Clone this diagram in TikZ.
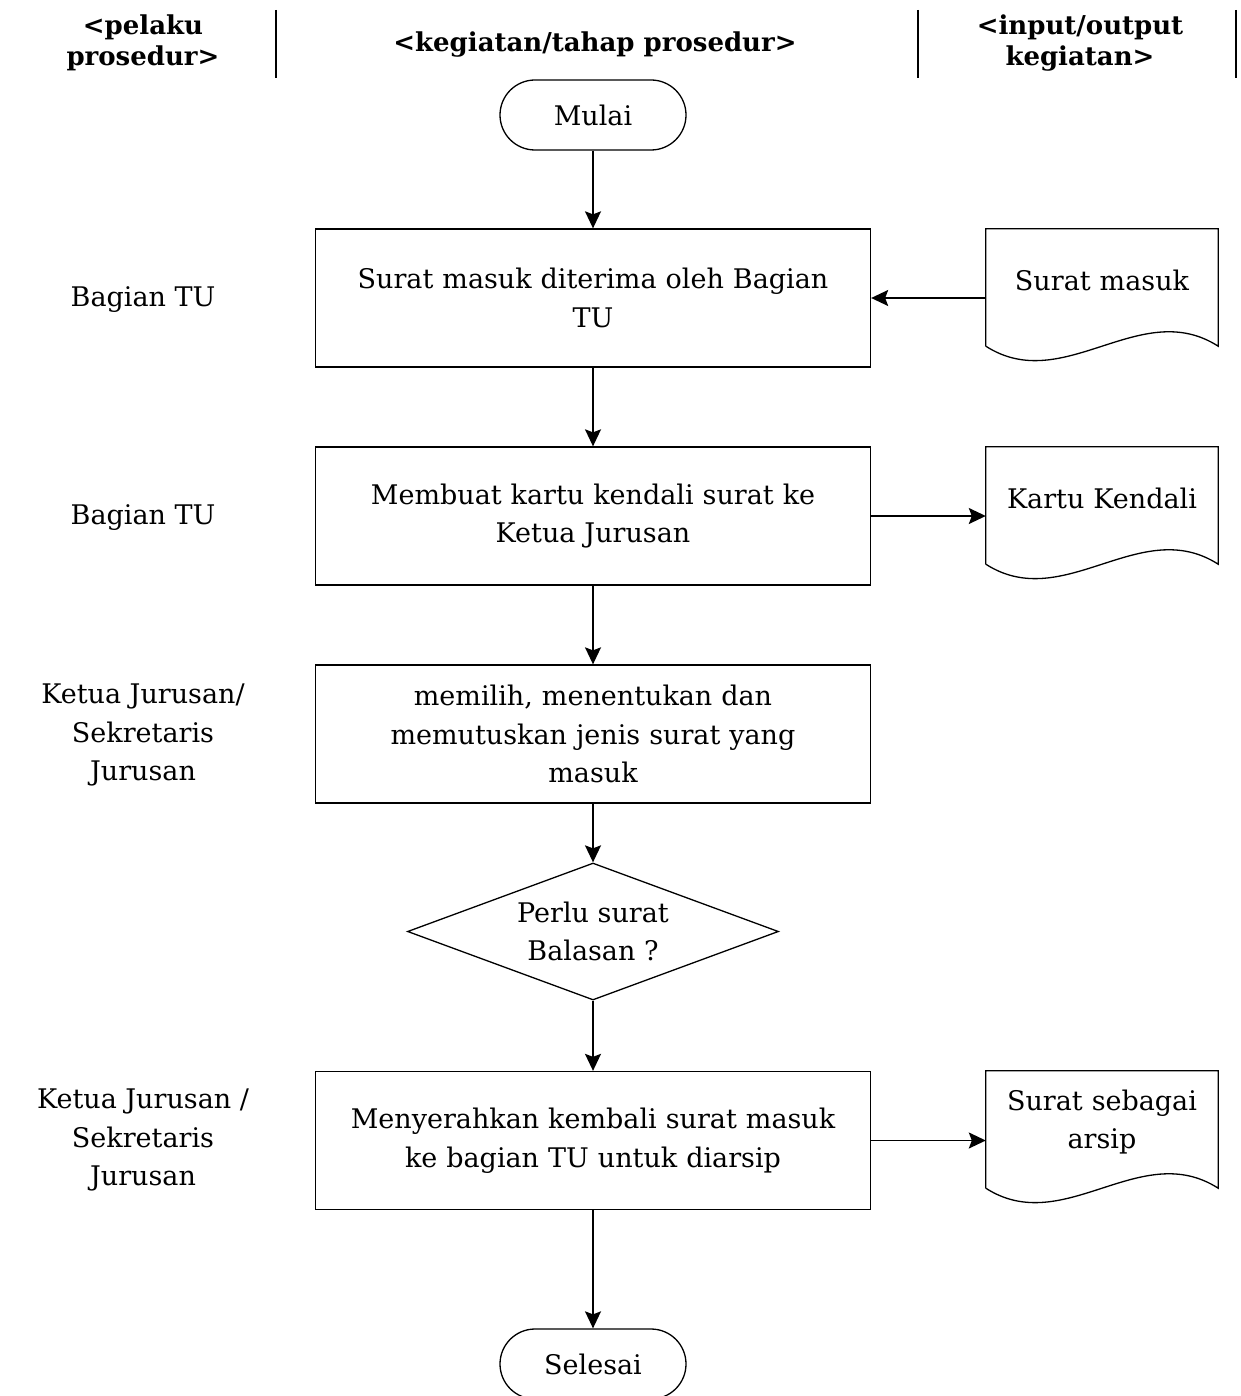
\documentclass[tikz,border=0pt]{standalone}
\usepackage{fontspec}
\setmainfont{DejaVu Serif}
\usetikzlibrary{shapes.geometric,arrows.meta,calc,positioning}

% garis bawah bergelombang untuk simbol dokumen
\newcommand{\docwave}[1]{%
  \draw[garis] ($(#1.south west)+(0,15)$) -- (#1.north west) -- (#1.north east) -- ($(#1.south east)+(0,15)$)
    .. controls ($(#1.south east)+(-78,-35)$) and ($(#1.south west)+(78,65)$) .. ($(#1.south west)+(0,15)$);}

\begin{document}
\begin{tikzpicture}[x=1pt,y=-1pt]

\tikzset{garis/.style={line width=1.3pt},}
\tikzset{panah/.style={line width=1.6pt,-{Stealth[length=17pt,width=16pt,inset=3pt]}},}
\tikzset{teks/.style={font=\fontsize{27}{38.5}\selectfont,align=center,inner sep=0pt},}
\tikzset{judul/.style={font=\fontsize{26}{31}\selectfont\bfseries,align=center,inner sep=0pt},}
\tikzset{terminal/.style={teks,draw,garis,rectangle,rounded corners=35pt,minimum width=186pt,minimum height=70pt},}
\tikzset{proses/.style={teks,draw,garis,rectangle,minimum width=555pt,minimum height=138pt,text width=548pt},}
\tikzset{keputusan/.style={teks,draw,garis,diamond,aspect=2.7,minimum width=371pt,minimum height=137pt},}
\tikzset{dokumen/.style={teks,rectangle,minimum width=232pt,minimum height=102pt,text width=230pt},}

\useasboundingbox (0,0) rectangle (1240,1396);

%KEPALA KOLOM
\draw (143,43) node [judul] (h1) {<pelaku\\prosedur>};
\draw (595,45) node [judul] (h2) {<kegiatan/tahap prosedur>};
\draw (1080,43) node [judul] (h3) {<input/output\\kegiatan>};
\draw[garis] (276,10) -- (276,78);
\draw[garis] (918,10) -- (918,78);
\draw[garis] (1236,10) -- (1236,78);

%ALUR
\draw (593,115) node [terminal] (mulai) {Mulai};
\draw (593,298) node [proses] (p1) {Surat masuk diterima oleh Bagian\\TU};
\draw (593,516) node [proses] (p2) {Membuat kartu kendali surat ke\\Ketua Jurusan};
\draw (593,734) node [proses] (p3) {memilih, menentukan dan\\memutuskan jenis surat yang\\masuk};
\draw (593,931.5) node [keputusan] (k1) {Perlu surat\\Balasan ?};
\draw (593,1140.5) node [proses] (p4) {Menyerahkan kembali surat masuk\\ke bagian TU untuk diarsip};
\draw (593,1364) node [terminal] (selesai) {Selesai};

%DOKUMEN
\draw (1102,280) node [dokumen] (d1) {Surat masuk};
\draw (1102,498) node [dokumen] (d2) {Kartu Kendali};
\draw (1102,1122) node [dokumen] (d3) {Surat sebagai\\arsip};
\docwave{d1}
\docwave{d2}
\docwave{d3}

%PELAKU
\draw (143,300) node [teks] (l1) {Bagian TU};
\draw (143,518) node [teks] (l2) {Bagian TU};
\draw (143,735) node [teks] (l3) {Ketua Jurusan/\\Sekretaris\\Jurusan};
\draw (143,1140) node [teks] (l4) {Ketua Jurusan /\\Sekretaris\\Jurusan};

\draw[panah] (mulai) -- (p1);
\draw[panah] (p1) -- (p2);
\draw[panah] (p2) -- (p3);
\draw[panah] (p3) -- (k1);
\draw[panah] (k1) -- (p4);
\draw[panah] (p4) -- (selesai);
\draw[panah] (d1.west |- p1.east) -- (p1.east);
\draw[panah] (p2.east) -- (p2.east -| d2.west);
\draw[panah] (p4.east) -- (p4.east -| d3.west);

\end{tikzpicture}
\end{document}
